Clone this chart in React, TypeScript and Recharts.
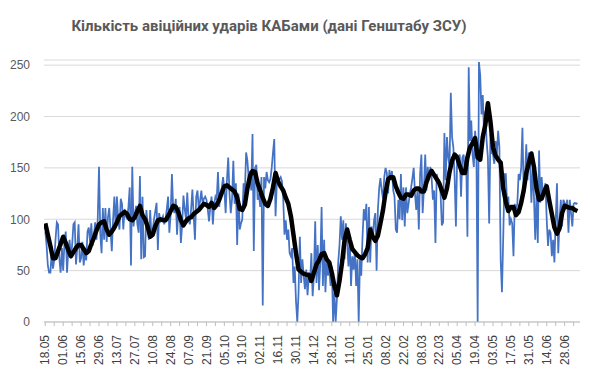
import React from "react";
import { LineChart, Line, XAxis, YAxis, CartesianGrid } from "recharts";

// tick labels every 14 days, starting 18.05
const dateLabels = [
  "18.05", "01.06", "15.06", "29.06", "13.07", "27.07", "10.08", "24.08",
  "07.09", "21.09", "05.10", "19.10", "02.11", "16.11", "30.11", "14.12",
  "28.12", "11.01", "25.01", "08.02", "22.02", "08.03", "22.03", "05.04",
  "19.04", "03.05", "17.05", "31.05", "14.06", "28.06",
];

// daily number of strikes, one row per 14 days
const strikes = [
  88, 75, 55, 48, 48, 68, 52, 60, 80, 97, 95, 62, 48, 72,
  50, 78, 88, 48, 70, 80, 62, 75, 95, 97, 56, 72, 95, 58,
  62, 78, 55, 68, 60, 88, 92, 78, 96, 74, 84, 97, 80, 100,
  151, 86, 67, 111, 80, 111, 78, 102, 111, 90, 69, 100, 122, 92,
  122, 100, 90, 120, 115, 90, 110, 103, 100, 112, 131, 55, 151, 93,
  105, 113, 95, 87, 142, 61, 122, 63, 64, 109, 95, 80, 109, 83,
  90, 100, 108, 116, 70, 106, 98, 100, 103, 95, 100, 110, 122, 87,
  105, 144, 110, 106, 120, 85, 108, 112, 77, 95, 123, 110, 100, 126,
  100, 95, 110, 129, 103, 80, 122, 128, 109, 118, 128, 115, 120, 122,
  119, 110, 98, 112, 122, 95, 115, 122, 119, 146, 112, 125, 131, 141,
  128, 106, 138, 160, 125, 106, 120, 157, 115, 135, 75, 125, 90, 96,
  100, 135, 125, 165, 157, 140, 147, 128, 183, 69, 150, 153, 119, 125,
  112, 141, 16, 141, 130, 146, 138, 136, 139, 150, 165, 178, 103, 135,
  137, 139, 141, 137, 120, 85, 99, 80, 90, 67, 64, 72, 38, 54,
  20, 0, 29, 83, 38, 61, 45, 32, 51, 26, 45, 38, 67, 25,
  45, 98, 38, 75, 31, 58, 112, 35, 80, 29, 61, 45, 55, 35,
  54, 0, 29, 0, 23, 58, 75, 103, 80, 99, 61, 96, 77, 54,
  83, 35, 64, 51, 70, 35, 61, 0, 61, 45, 83, 110, 99, 115,
  58, 112, 58, 93, 80, 99, 106, 50, 109, 130, 140, 128, 120, 141,
  150, 145, 125, 148, 138, 147, 128, 122, 90, 87, 119, 100, 144, 99,
  131, 93, 131, 106, 115, 125, 131, 140, 150, 125, 109, 130, 90, 144,
  163, 106, 130, 163, 128, 151, 138, 151, 140, 119, 128, 77, 144, 138,
  138, 125, 94, 97, 184, 138, 180, 160, 151, 223, 180, 170, 141, 93,
  163, 160, 163, 122, 160, 163, 144, 161, 83, 248, 176, 196, 163, 151,
  186, 170, 0, 253, 240, 202, 221, 183, 205, 176, 160, 96, 183, 165,
  163, 154, 176, 163, 186, 170, 60, 29, 83, 144, 144, 115, 122, 94,
  100, 96, 64, 115, 110, 115, 144, 138, 150, 189, 125, 140, 173, 138,
  165, 154, 116, 151, 122, 80, 125, 77, 167, 116, 141, 125, 130, 135,
  99, 74, 90, 87, 64, 80, 58, 99, 135, 67, 99, 119, 93, 119,
  116, 110, 119, 87, 119, 106, 93, 115, 116, 115, 116,
];

// smoothed level (black line), read every 2 days
const trend = [
  96, 85, 74, 62, 62, 69, 76,
  83, 77, 70, 64, 68, 72, 75,
  75, 71, 67, 69, 76, 82, 89,
  95, 97, 98, 90, 85, 88, 92,
  97, 103, 105, 107, 105, 100, 99,
  102, 108, 113, 104, 100, 93, 83,
  85, 93, 99, 100, 99, 99, 103,
  108, 113, 112, 107, 99, 94, 98,
  101, 102, 105, 107, 109, 112, 115,
  114, 112, 116, 111, 114, 119, 126,
  132, 133, 131, 129, 127, 121, 110,
  109, 114, 130, 142, 147, 146, 135,
  128, 121, 115, 113, 120, 131, 145,
  137, 132, 128, 121, 115, 103, 85,
  67, 51, 49, 47, 46, 46, 40,
  48, 56, 60, 66, 67, 61, 58,
  48, 35, 26, 40, 58, 80, 90,
  80, 71, 68, 65, 63, 62, 66,
  72, 90, 83, 79, 84, 96, 109,
  126, 139, 141, 141, 132, 126, 121,
  120, 124, 124, 123, 128, 130, 130,
  127, 127, 136, 143, 147, 143, 139,
  135, 128, 121, 130, 146, 157, 163,
  160, 152, 145, 145, 160, 170, 174,
  179, 160, 158, 180, 192, 213, 195,
  170, 162, 158, 155, 130, 117, 108,
  112, 112, 104, 107, 116, 128, 145,
  155, 164, 151, 130, 119, 120, 127,
  132, 118, 105, 92, 86, 91, 106,
  113, 112, 111, 111, 109, 108,
];

const yTicks = [0, 50, 100, 150, 200, 250];

const dailyData = strikes.map((v, i) => ({ day: i, strikes: v }));
const trendData = trend.map((v, i) => ({ day: i * 2, avg: v }));
const weekTicks = Array.from({ length: 60 }, (_, i) => i * 7);

const DateTick = ({ x, y, payload }: any) => {
  const v = payload.value;
  if (v % 14 !== 0) return <g />;
  return (
    <text
      x={x}
      y={y}
      transform={`rotate(-90, ${x}, ${y})`}
      textAnchor="end"
      dy="0.35em"
      fontSize={12}
      fill="#404040"
    >
      {dateLabels[v / 14]}
    </text>
  );
};

export default function App() {
  return (
    <div
      style={{
        position: "relative",
        width: 590,
        height: 376,
        background: "#fff",
        fontFamily: "'Liberation Sans', Arial, sans-serif",
      }}
    >
      <style>{`body { margin: 0; }`}</style>
      <div
        style={{
          position: "absolute",
          top: 17,
          left: 0,
          width: 538,
          textAlign: "center",
          fontFamily: "Roboto, 'Noto Sans', sans-serif",
          fontWeight: 700,
          fontSize: 15,
          color: "#595959",
        }}
      >
        Кількість авіційних ударів КАБами (дані Генштабу ЗСУ)
      </div>
      <LineChart
        width={590}
        height={376}
        data={dailyData}
        margin={{ top: 60, right: 10, bottom: 0, left: 0 }}
      >
        <CartesianGrid horizontal vertical={false} stroke="#d9d9d9" />
        <XAxis
          type="number"
          dataKey="day"
          domain={[-1, 418]}
          ticks={weekTicks}
          interval={0}
          tick={<DateTick />}
          tickSize={4}
          tickMargin={9}
          height={54}
          axisLine={{ stroke: "#bfbfbf" }}
          tickLine={{ stroke: "#bfbfbf" }}
          allowDataOverflow
        />
        <YAxis
          domain={[0, 255]}
          ticks={yTicks}
          width={44}
          tickLine={false}
          axisLine={false}
          tickMargin={8}
          tick={{ fill: "#595959", fontSize: 12 }}
        />
        <Line
          dataKey="strikes"
          type="linear"
          stroke="#4472C4"
          strokeWidth={1.75}
          dot={false}
          isAnimationActive={false}
        />
        <Line
          data={trendData}
          dataKey="avg"
          type="linear"
          stroke="#000"
          strokeWidth={4.5}
          strokeLinejoin="round"
          dot={false}
          isAnimationActive={false}
        />
      </LineChart>
    </div>
  );
}
